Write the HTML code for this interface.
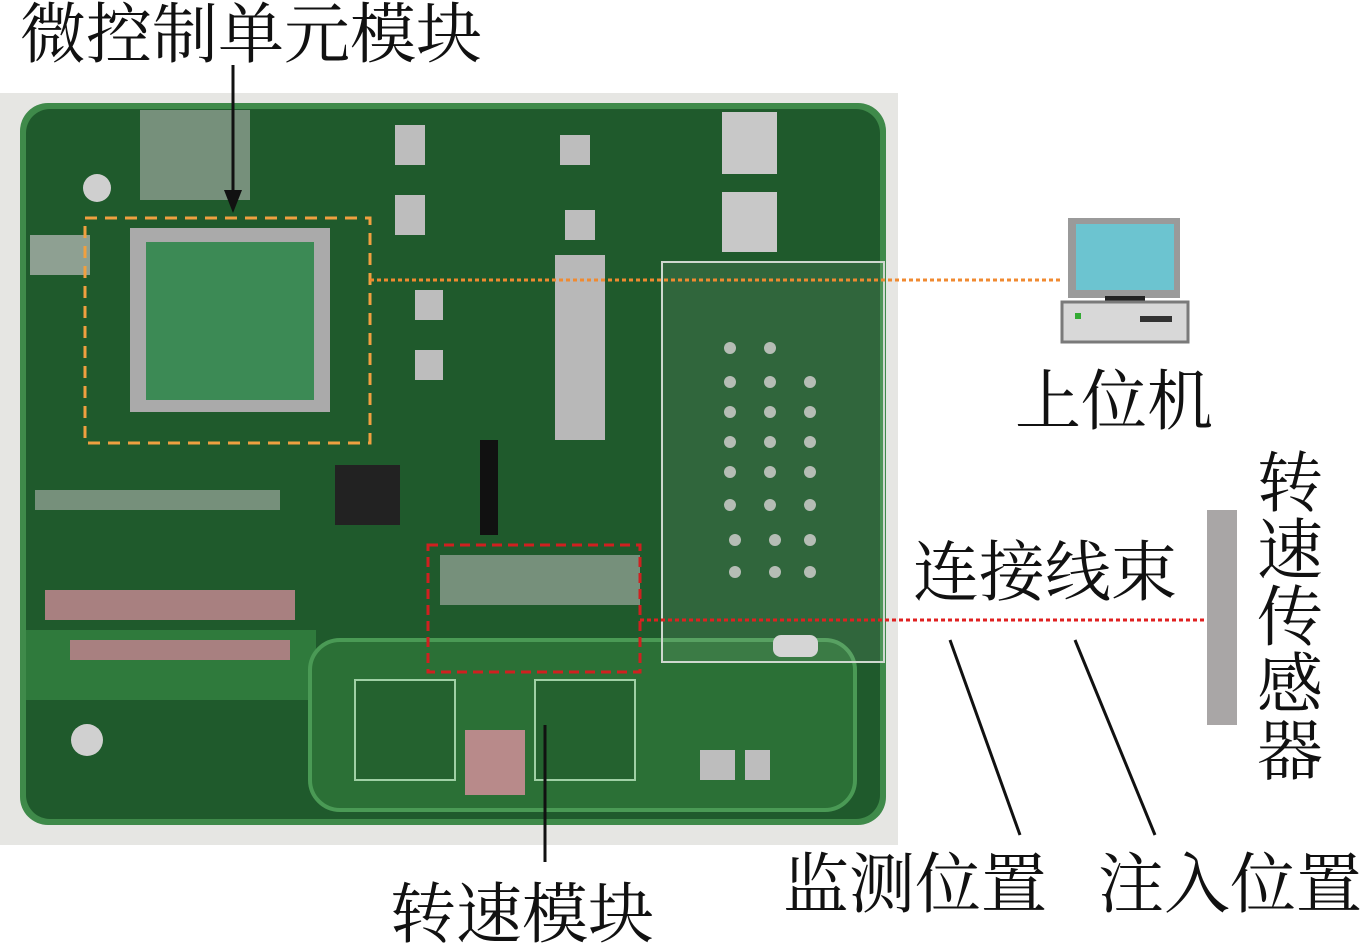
<!DOCTYPE html>
<html><head><meta charset="utf-8"><style>
html,body{margin:0;padding:0;background:#fff;}
svg{display:block}
text{font-family:"Liberation Serif","Noto Serif CJK SC","Noto Sans CJK SC",serif;fill:#111}
</style></head><body>
<svg width="1363" height="945" viewBox="0 0 1363 945" xmlns="http://www.w3.org/2000/svg">
<rect width="1363" height="945" fill="#fff"/>
<rect x="0" y="93" width="898" height="752" fill="#e6e6e3"/>
<rect x="20" y="103" width="866" height="722" rx="28" fill="#3f8a4a"/>
<rect x="26" y="109" width="854" height="710" rx="24" fill="#1f5a2c"/>
<rect x="26" y="630" width="290" height="70" fill="#2f7a3c"/>
<rect x="310" y="640" width="545" height="170" rx="30" fill="#2b7036" stroke="#4a9a55" stroke-width="4"/>
<rect x="355" y="680" width="100" height="100" fill="#24622f" stroke="#9fd0a5" stroke-width="2"/>
<rect x="535" y="680" width="100" height="100" fill="#24622f" stroke="#9fd0a5" stroke-width="2"/>
<rect x="465" y="730" width="60" height="65" fill="#b88a8a"/>
<circle cx="97" cy="188" r="14" fill="#cfcfcf"/>
<circle cx="87" cy="740" r="16" fill="#d0d0d0"/>
<rect x="722" y="112" width="55" height="62" fill="#c8c8c8"/>
<rect x="722" y="192" width="55" height="60" fill="#c8c8c8"/>
<rect x="555" y="255" width="50" height="185" fill="#b8b8b8"/>
<g fill="#bdbdbd">
<rect x="140" y="110" width="110" height="90" opacity=".55"/>
<rect x="395" y="125" width="30" height="40"/><rect x="395" y="195" width="30" height="40"/>
<rect x="560" y="135" width="30" height="30"/><rect x="565" y="210" width="30" height="30"/>
<rect x="415" y="290" width="28" height="30"/><rect x="415" y="350" width="28" height="30"/>
<rect x="30" y="235" width="60" height="40" opacity=".7"/>
<rect x="35" y="490" width="245" height="20" opacity=".55"/>
<rect x="45" y="590" width="250" height="30" fill="#a88080"/>
<rect x="70" y="640" width="220" height="20" fill="#a88080"/>
<rect x="480" y="440" width="18" height="95" fill="#111"/>
<rect x="335" y="465" width="65" height="60" fill="#222"/>
<rect x="440" y="555" width="200" height="50" opacity=".55"/>
<rect x="700" y="750" width="35" height="30"/><rect x="745" y="750" width="25" height="30"/>
</g>
<rect x="130" y="228" width="200" height="184" fill="#aaa"/>
<rect x="146" y="242" width="168" height="158" fill="#3c8a55"/>
<rect x="662" y="262" width="222" height="400" fill="#fff" fill-opacity=".08" stroke="#cfd8cf" stroke-width="2"/>
<g fill="#b5bdb5">
<circle cx="730" cy="348" r="6"/><circle cx="770" cy="348" r="6"/><circle cx="730" cy="382" r="6"/><circle cx="770" cy="382" r="6"/><circle cx="810" cy="382" r="6"/>
<circle cx="730" cy="412" r="6"/><circle cx="770" cy="412" r="6"/><circle cx="810" cy="412" r="6"/>
<circle cx="730" cy="442" r="6"/><circle cx="770" cy="442" r="6"/><circle cx="810" cy="442" r="6"/>
<circle cx="730" cy="472" r="6"/><circle cx="770" cy="472" r="6"/><circle cx="810" cy="472" r="6"/>
<circle cx="730" cy="505" r="6"/><circle cx="770" cy="505" r="6"/><circle cx="810" cy="505" r="6"/>
<circle cx="735" cy="540" r="6"/><circle cx="775" cy="540" r="6"/><circle cx="810" cy="540" r="6"/>
<circle cx="735" cy="572" r="6"/><circle cx="775" cy="572" r="6"/><circle cx="810" cy="572" r="6"/>
</g>
<rect x="773" y="635" width="45" height="22" rx="8" fill="#d5d5d5"/>
<rect x="85" y="218" width="285" height="225" fill="none" stroke="#f0a040" stroke-width="3" stroke-dasharray="12,8"/>
<rect x="428" y="545" width="212" height="127" fill="none" stroke="#d02020" stroke-width="3" stroke-dasharray="10,6"/>
<line x1="370" y1="280" x2="1062" y2="280" stroke="#f08a30" stroke-width="3" stroke-dasharray="4,3"/>
<line x1="640" y1="620" x2="1207" y2="620" stroke="#e02020" stroke-width="3" stroke-dasharray="4,3"/>
<rect x="1068" y="218" width="112" height="80" fill="#9a9a9a"/>
<rect x="1076" y="224" width="98" height="66" fill="#6cc4d0"/>
<rect x="1105" y="296" width="40" height="6" fill="#222"/>
<rect x="1062" y="302" width="126" height="40" fill="#d8d8d8" stroke="#7a7a7a" stroke-width="3"/>
<rect x="1075" y="313" width="6" height="6" fill="#3a3"/>
<rect x="1140" y="316" width="32" height="6" fill="#333"/>
<rect x="1207" y="510" width="30" height="215" fill="#a9a6a6"/>
<line x1="233" y1="65" x2="233" y2="195" stroke="#111" stroke-width="3"/>
<polygon points="224,190 242,190 233,213" fill="#111"/>
<line x1="950" y1="640" x2="1020" y2="835" stroke="#111" stroke-width="3"/>
<line x1="1075" y1="640" x2="1155" y2="835" stroke="#111" stroke-width="3"/>
<line x1="545" y1="725" x2="545" y2="862" stroke="#111" stroke-width="3"/>
<g font-size="66">
<text x="20" y="57">微控制单元模块</text>
<text x="1015" y="424">上位机</text>
<text x="913" y="595">连接线束</text>
<text x="783" y="907">监测位置</text>
<text x="1098" y="907">注入位置</text>
<text x="390" y="937">转速模块</text>
</g>
<g font-size="66">
<text x="1257" y="506">转</text><text x="1257" y="573">速</text><text x="1257" y="640">传</text><text x="1257" y="707">感</text><text x="1257" y="774">器</text>
</g>
</svg>
</body></html>
